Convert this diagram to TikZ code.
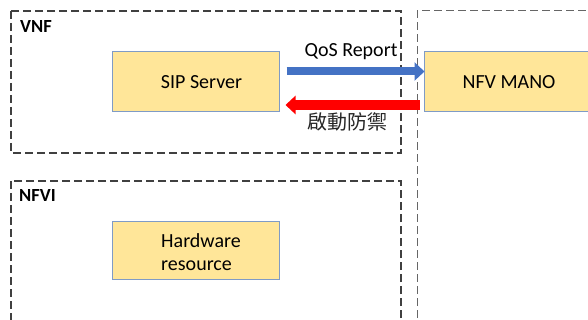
\documentclass[tikz,border=0pt]{standalone}
\usepackage{fontspec}
\setmainfont{Carlito}
\newfontfamily\cjk{Noto Sans CJK TC}
\usetikzlibrary{arrows.meta,calc}
\definecolor{boxfill}{HTML}{FFE699}
\definecolor{boxline}{HTML}{7F9BC6}
\definecolor{arrblue}{HTML}{4472C4}
\definecolor{arrred}{HTML}{FF0000}
\definecolor{darkdash}{HTML}{404040}
\definecolor{lightdash}{HTML}{666666}
\tikzset{
  compbox/.style={draw=boxline, fill=boxfill, line width=1pt, minimum width=167pt, minimum height=60pt, inner sep=0pt, font=\fontsize{20pt}{22pt}\selectfont},
  groupdash/.style={draw=darkdash, line width=1.3pt, dash pattern=on 8pt off 4pt},
  groupdashlight/.style={draw=lightdash, line width=1pt, dash pattern=on 8pt off 4pt},
  grouplabel/.style={anchor=base west, inner sep=0pt, font=\fontsize{18.5pt}{20pt}\selectfont\bfseries},
  msglabel/.style={anchor=base, inner sep=0pt, font=\fontsize{20pt}{22pt}\selectfont},
  bluearr/.style={draw=arrblue, line width=8pt, -{Triangle[width=18pt,length=10pt]}},
  redarr/.style={draw=arrred, line width=10pt, -{Triangle[width=18pt,length=10pt]}}
}
\begin{document}
\begin{tikzpicture}[x=1pt,y=-1pt]
\useasboundingbox (0,0) rectangle (588,320);
% group frames
\draw[groupdash] (11,11) rectangle (401,153);
\draw[groupdash] (11,181) -- (11,330) (401,330) -- (401,181) -- (11,181);
\draw[groupdashlight] (417,330) -- (417,11) -- (600,11);
\node[grouplabel] (vnf) at (20,33) {VNF};
\node[grouplabel] (nfvi) at (19,202) {NFVI};
% component boxes
\node[compbox] (sip) at (195.5,82) {\hspace*{12pt}SIP Server};
\node[compbox, minimum width=170pt] (mano) at (509,82) {NFV MANO};
\node[compbox, minimum height=58pt] (hw) at (195.5,250) {\raisebox{2pt}[0pt][0pt]{\begin{tabular}[t]{@{}l@{}}\hspace*{11pt}Hardware\\\hspace*{11pt}resource\end{tabular}}};
% arrows
\draw[bluearr] ([xshift=7pt,yshift=10.5pt]sip.east) -- ([xshift=1pt,yshift=10.5pt]mano.west);
\draw[redarr] ([xshift=-4pt,yshift=-23pt]mano.west) -- ([xshift=6pt,yshift=-23pt]sip.east);
\node[msglabel] (qos) at (351,57) {QoS Report};
\node[msglabel, text=black!85] (defend) at (347.5,130) {\cjk 啟動防禦};
\end{tikzpicture}
\end{document}
